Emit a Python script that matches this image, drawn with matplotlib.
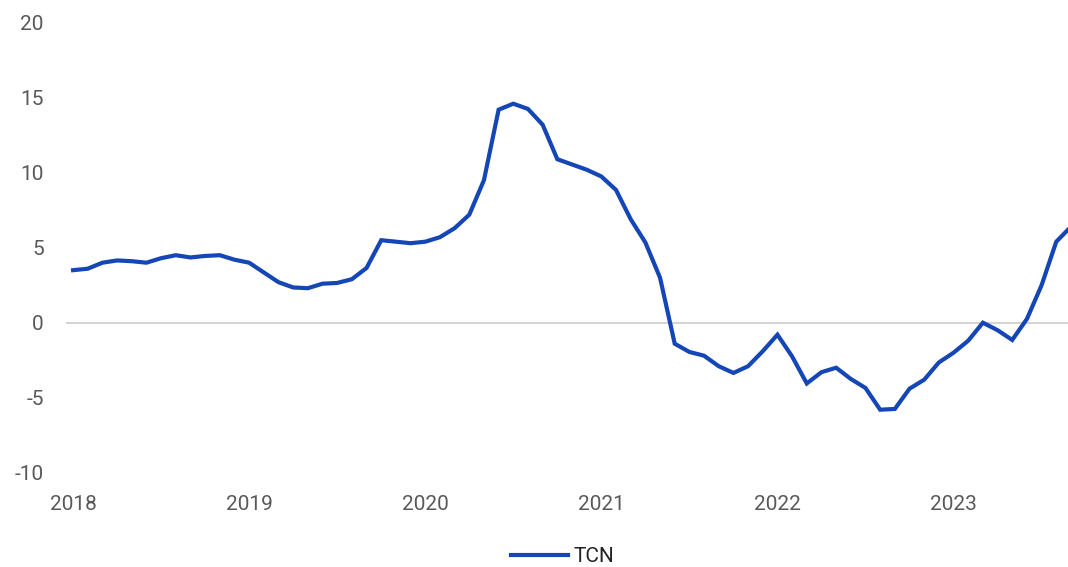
import matplotlib
matplotlib.use("Agg")
import matplotlib.pyplot as plt

years = ["2018", "2019", "2020", "2021", "2022", "2023"]
series_name = "TCN"
# monthly values, Jan 2018 .. Sep 2023
tcn = [3.5, 3.6, 4.0, 4.15, 4.1, 4.0, 4.3, 4.5, 4.35, 4.45, 4.5, 4.2,
       4.0, 3.35, 2.7, 2.35, 2.3, 2.6, 2.65, 2.9, 3.65, 5.5, 5.4, 5.3,
       5.4, 5.7, 6.3, 7.2, 9.5, 14.2, 14.6, 14.25, 13.2, 10.9, 10.55, 10.2,
       9.75, 8.85, 6.9, 5.35, 3.0, -1.4, -1.95, -2.2, -2.9, -3.35, -2.9, -1.9,
       -0.8, -2.25, -4.05, -3.3, -3.0, -3.75, -4.35, -5.8, -5.75, -4.4, -3.8, -2.65,
       -2.0, -1.2, 0.0, -0.5, -1.15, 0.25, 2.5, 5.4, 6.4]
yticks = [-10, -5, 0, 5, 10, 15, 20]

plt.rcParams['font.family'] = ['Roboto', 'DejaVu Sans']

fig = plt.figure(figsize=(10.68, 5.67), dpi=100)
ax = fig.add_axes([66/1068, 1 - 472.7/567, 1 - 66/1068, (472.7 - 22.7)/567])

months = list(range(len(tcn)))
ax.axhline(0, color='#d3d3d3', lw=1.4, zorder=1)
ax.plot(months, tcn, color='#1546B5', lw=3, label=series_name, zorder=3,
        solid_joinstyle='miter')

ax.set_ylim(-10, 20)
ax.set_xlim(-0.48, 67.8)
ax.set_yticks(yticks)
ax.set_yticklabels([str(v) for v in yticks])
ax.set_xticks([12 * i for i in range(len(years))])
ax.set_xticklabels(years)
for s in ax.spines.values():
    s.set_visible(False)
ax.tick_params(axis='both', length=0, labelsize=15, labelcolor='#595959')
ax.tick_params(axis='y', pad=16)
ax.tick_params(axis='x', pad=16)

fig.legend(loc='center', bbox_to_anchor=(563/1068, 1 - 557/567), frameon=False,
           fontsize=15, handlelength=2.7, handletextpad=0.3, labelcolor='#222222')

fig.savefig("out.png", dpi=100)
